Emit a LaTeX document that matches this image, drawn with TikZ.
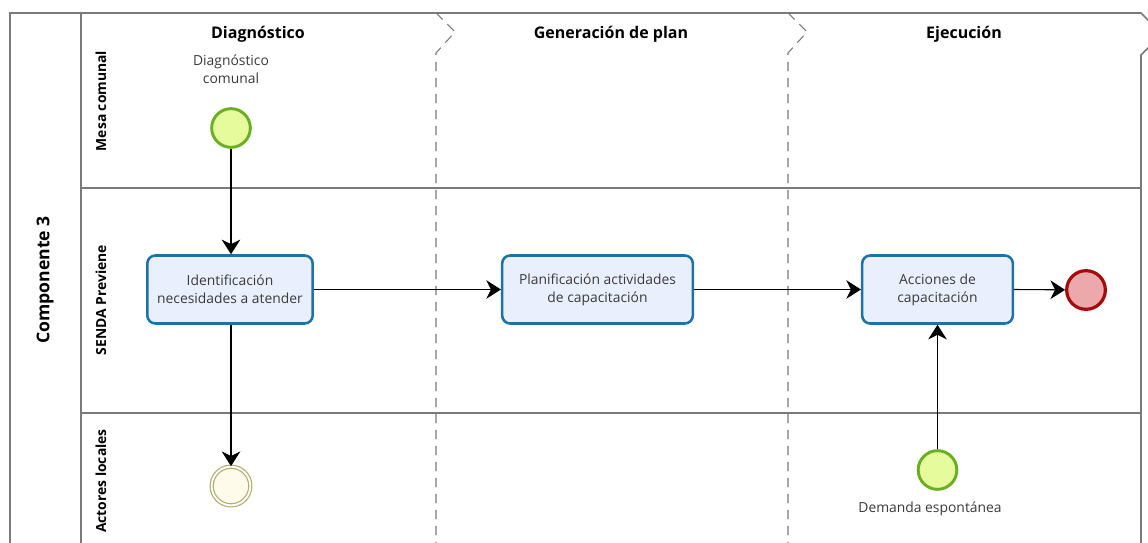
\documentclass[tikz,border=0pt]{standalone}
\usepackage{fontspec}
\setmainfont{Open Sans}
\usetikzlibrary{arrows.meta}
\definecolor{startfill}{HTML}{E5FB9C}
\definecolor{startdraw}{HTML}{6AAE22}
\definecolor{endfill}{HTML}{EDA8AC}
\definecolor{enddraw}{HTML}{A50A0A}
\definecolor{taskfill}{HTML}{E9EFFC}
\definecolor{taskdraw}{HTML}{1E73A6}
\definecolor{midfill}{HTML}{FFFBEB}
\definecolor{middraw}{HTML}{B3AC6C}
\definecolor{linegray}{HTML}{7A7A7A}
\definecolor{txtgray}{HTML}{3A3A3A}
\tikzset{
  poolline/.style={draw=linegray, line width=1.3pt},
  phaseline/.style={draw=linegray, line width=0.8pt, dash pattern=on 7pt off 5pt},
  taskbox/.style={draw=taskdraw, fill=taskfill, line width=1.9pt, rounded corners=6pt,
    minimum width=124pt, minimum height=51pt, inner sep=0pt, align=center,
    font=\fontsize{10.4}{13.5}\selectfont, text=txtgray},
  startev/.style={circle, draw=startdraw, fill=startfill, line width=2.2pt, minimum size=29pt, inner sep=0pt},
  endev/.style={circle, draw=enddraw, fill=endfill, line width=2.4pt, minimum size=29pt, inner sep=0pt},
  midev/.style={circle, draw=middraw, fill=midfill, line width=0.9pt, double=white, double distance=1.4pt, minimum size=29pt, inner sep=0pt},
  flow/.style={draw=black, line width=0.8pt, -{Stealth[length=11pt, width=14pt, inset=3.5pt]}},
  phasehead/.style={font=\fontsize{12}{14}\selectfont\bfseries},
  lanehead/.style={font=\fontsize{10.4}{12}\selectfont\bfseries, rotate=90},
  evlabel/.style={font=\fontsize{10.4}{13.5}\selectfont, text=txtgray, align=center}
}
\begin{document}
\begin{tikzpicture}[x=0.75pt, y=-0.75pt]
\useasboundingbox (0,0) rectangle (1148,542);
\clip (0,0) rectangle (1148,542);
% pool frame
\draw[poolline] (10,560) -- (10,13) -- (1141,13) -- (1162,34) -- (1141,55) -- (1141,560);
\draw[poolline] (81,13) -- (81,560);
% lane separators
\draw[poolline] (81,188) -- (1141,188);
\draw[poolline] (81,413) -- (1141,413);
% phase separators
\draw[phaseline] (436,13) -- (455,32) -- (436,53) -- (436,560);
\draw[phaseline] (788,13) -- (807,32) -- (788,53) -- (788,560);
% headers
\node[phasehead] (h1) at (258,34) {Diagnóstico};
\node[phasehead] (h2) at (611,34) {Generación de plan};
\node[phasehead] (h3) at (964,34) {Ejecución};
\node[lanehead] (l1) at (101,101) {Mesa comunal};
\node[lanehead] (l2) at (101,300) {SENDA Previene};
\node[lanehead] (l3) at (101,481) {Actores locales};
\node[font=\fontsize{13.2}{15}\selectfont\bfseries, rotate=90] (pool) at (45,280) {Componente 3};
% events and tasks
\node[startev] (s1) at (231,128) {};
\node[evlabel] (s1l) at (231,69) {Diagnóstico\\comunal};
\node[taskbox] (t1) at (230,289.5) {Identificación\\necesidades a atender};
\node[taskbox, minimum width=143pt] (t2) at (597.5,289.5) {Planificación actividades\\de capacitación};
\node[taskbox, minimum width=113pt] (t3) at (937.5,289.5) {Acciones de\\capacitación};
\node[endev] (e1) at (1086,290) {};
\node[midev] (m1) at (231,486) {};
\node[startev] (s2) at (937.5,470) {};
\node[evlabel] (s2l) at (930,509) {Demanda espontánea};
% flows
\draw[flow] (s1) -- (t1.north -| s1);
\draw[flow] (t1.south -| m1) -- (m1);
\draw[flow] (t1.east) -- (t2.west);
\draw[flow] (t2.east) -- (t3.west);
\draw[flow] (t3.east) -- (e1);
\draw[flow] (s2) -- (t3.south -| s2);
\end{tikzpicture}
\end{document}
